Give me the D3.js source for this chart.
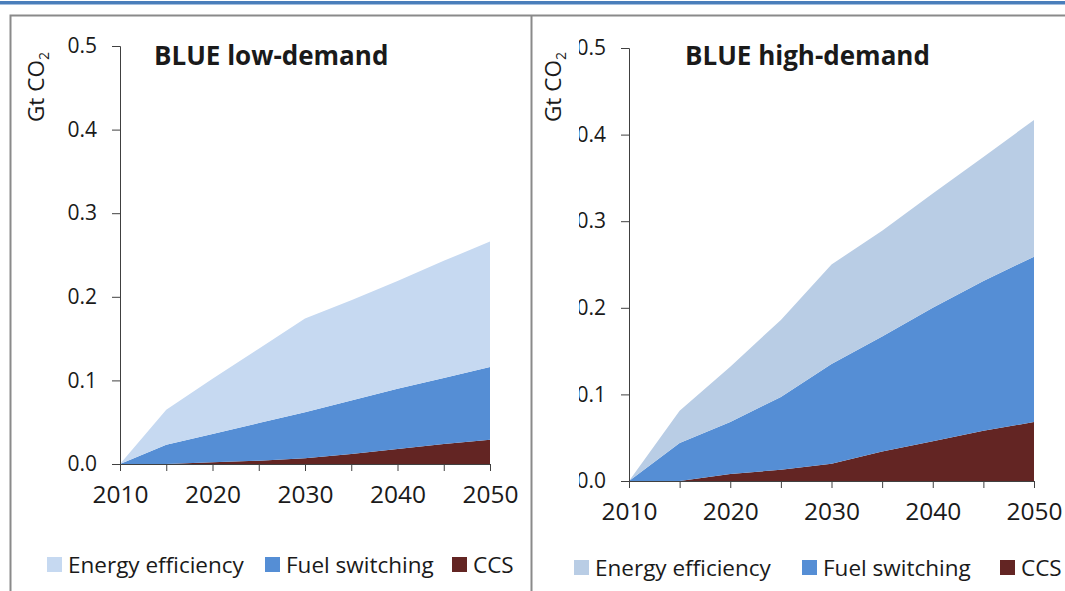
<!DOCTYPE html>
<html>
<head>
<meta charset="utf-8">
<script src="https://cdn.jsdelivr.net/npm/d3@7"></script>
<style>
body { margin: 0; background: #fff; }
text { font-family: "Open Sans", sans-serif; fill: #1a1a1a; }
</style>
</head>
<body>
<div id="mainDiv"></div>
<script>
// data, Gt CO2 per layer (not cumulative)
var years = [2010, 2015, 2020, 2025, 2030, 2035, 2040, 2045, 2050];
var seriesNames = ["CCS", "Fuel switching", "Energy efficiency"];
var legendOrder = ["Energy efficiency", "Fuel switching", "CCS"];

var lowCCS = [0, 0, 0.002, 0.004, 0.007, 0.012, 0.018, 0.024, 0.029];
var lowFuel = [0, 0.023, 0.034, 0.045, 0.055, 0.064, 0.072, 0.079, 0.087];
var lowEff = [0, 0.042, 0.066, 0.089, 0.112, 0.120, 0.129, 0.140, 0.150];

var highCCS = [0, 0, 0.008, 0.013, 0.020, 0.034, 0.046, 0.058, 0.068];
var highFuel = [0, 0.044, 0.060, 0.084, 0.115, 0.133, 0.154, 0.173, 0.191];
var highEff = [0, 0.037, 0.064, 0.089, 0.115, 0.122, 0.132, 0.143, 0.158];

var yTicks = [0, 0.1, 0.2, 0.3, 0.4, 0.5];
var xTicks = [2010, 2015, 2020, 2025, 2030, 2035, 2040, 2045, 2050];
var xLabels = [2010, 2020, 2030, 2040, 2050];

var mySvg = d3.select("#mainDiv").append("svg")
    .attr("width", 1065)
    .attr("height", 591);

// page frame
mySvg.append("rect").attr("x", 0).attr("y", 1).attr("width", 1065).attr("height", 3.5).attr("fill", "#4a7ebb");
mySvg.append("path")
    .attr("d", "M1065,15.5 H10.5 V591 M531.5,15.5 V591")
    .attr("fill", "none").attr("stroke", "#8a8a8a").attr("stroke-width", 2);

function drawPanel(opt) {
    var colors = {"CCS": "#632523", "Fuel switching": "#558ed5", "Energy efficiency": opt.effColor};
    var rows = years.map(function (yr, i) {
        return {year: yr, "CCS": opt.ccs[i], "Fuel switching": opt.fuel[i], "Energy efficiency": opt.eff[i]};
    });
    var stack = d3.stack().keys(seriesNames)(rows);

    var x = d3.scaleLinear().domain([2010, 2050]).range([opt.x0, opt.x1]);
    var y = d3.scaleLinear().domain([0, 0.5]).range([opt.y0, opt.y1]);

    var area = d3.area()
        .x(function (d) { return x(d.data.year); })
        .y0(function (d) { return y(d[0]); })
        .y1(function (d) { return y(d[1]); });

    var g = mySvg.append("g");
    g.selectAll("path.layer").data(stack).enter().append("path")
        .attr("class", "layer")
        .attr("d", area)
        .attr("fill", function (d) { return colors[d.key]; });

    // y axis
    var yAxis = g.append("g").attr("transform", "translate(" + opt.x0 + ",0)")
        .call(d3.axisLeft(y).tickValues(yTicks).tickFormat(d3.format(".1f")).tickSize(8).tickPadding(15));
    yAxis.select(".domain").attr("stroke", "#404040");
    yAxis.selectAll(".tick line").attr("stroke", "#404040");
    yAxis.selectAll("text").style("font-size", "21px").attr("fill", "#1a1a1a");
    if (opt.clipLabels) {
        // the right panel's tick labels are cut on the left in the original
        mySvg.append("clipPath").attr("id", opt.id + "clip")
            .append("rect").attr("x", opt.clipLabels - opt.x0).attr("y", -100)
            .attr("width", 200).attr("height", 800);
        yAxis.attr("clip-path", "url(#" + opt.id + "clip)");
    }

    // x axis
    var xAxis = g.append("g").attr("transform", "translate(0," + opt.y0 + ")")
        .call(d3.axisBottom(x).tickValues(xTicks).tickSize(7).tickPadding(15)
            .tickFormat(function (d) { return xLabels.indexOf(d) >= 0 ? d : ""; }));
    xAxis.select(".domain").attr("stroke", "#404040");
    xAxis.selectAll(".tick line").attr("stroke", "#404040");
    xAxis.selectAll("text").style("font-size", "24.5px").attr("fill", "#1a1a1a");

    // unit label
    var unit = g.append("text")
        .attr("transform", "translate(" + opt.unitX + "," + opt.unitY + ") rotate(-90)")
        .style("font-size", "22.5px");
    unit.append("tspan").text("Gt CO");
    unit.append("tspan").text("2").attr("dy", 5).style("font-size", "14px");

    // title
    g.append("text").attr("x", opt.titleX).attr("y", 65)
        .style("font-size", "26px").style("font-weight", "bold")
        .text(opt.title);

    // legend
    var leg = g.selectAll("g.leg").data(legendOrder).enter().append("g")
        .attr("class", "leg")
        .attr("transform", function (d, i) { return "translate(" + opt.legendX[i] + "," + opt.legendY + ")"; });
    leg.append("rect").attr("x", 0).attr("y", -8).attr("width", 15).attr("height", 15)
        .attr("fill", function (d) { return colors[d]; });
    leg.append("text").attr("x", 21).attr("y", 8)
        .style("font-size", "22.5px")
        .text(function (d) { return d; });
}

drawPanel({
    id: "low", title: "BLUE low-demand",
    ccs: lowCCS, fuel: lowFuel, eff: lowEff, effColor: "#c6d9f1",
    x0: 120, x1: 490, y0: 464, y1: 46,
    unitX: 44, unitY: 122, titleX: 154,
    legendX: [47, 265, 452], legendY: 565
});

drawPanel({
    id: "high", title: "BLUE high-demand",
    ccs: highCCS, fuel: highFuel, eff: highEff, effColor: "#b9cde5",
    x0: 629, x1: 1034, y0: 481, y1: 48,
    unitX: 561, unitY: 122, titleX: 685, clipLabels: 579,
    legendX: [574, 802, 1000], legendY: 568
});
</script>
</body>
</html>
